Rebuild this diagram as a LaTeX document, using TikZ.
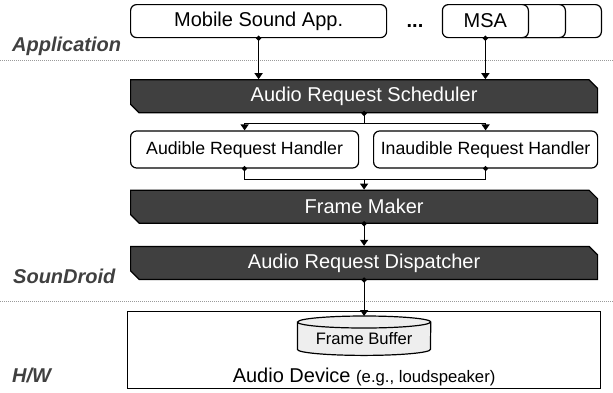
\documentclass[tikz,border=0pt]{standalone}
\usepackage{fontspec}
\setmainfont{Liberation Sans}
\usetikzlibrary{%
	positioning,
	arrows.meta,
	shapes.misc,
	backgrounds
}
\definecolor{layergray}{HTML}{404040}
\definecolor{sepgray}{HTML}{9A9A9A}
\definecolor{buffergray}{HTML}{EEEEEE}

\begin{document}
\begin{tikzpicture}[x=1pt,y=1pt,
		SApp/.style={draw,shape=rectangle,rounded corners=6pt,fill=white,line width=1.2pt,minimum height=33pt,inner sep=0pt,font=\fontsize{20}{24}\selectfont},
		SLayer/.style={draw,fill=layergray,text=white,shape=chamfered rectangle,chamfered rectangle corners={north east,south west},chamfered rectangle xsep=5pt,minimum width=467pt,minimum height=33pt,inner sep=0pt,line width=1.2pt,font=\fontsize{20}{24}\selectfont},
		SHandler/.style={draw,shape=rectangle,rounded corners=6pt,line width=1.2pt,minimum height=37pt,inner sep=0pt,font=\fontsize{17.7}{21}\selectfont},
		title/.style={anchor=base west,text=layergray,inner sep=0pt,font=\fontsize{20}{24}\selectfont\bfseries\itshape},
		layersep/.style={draw=sepgray,line width=0.8pt,dash pattern=on 0.8pt off 1.2pt},
		link/.style={line width=1.2pt},
		fromdot/.style={link,{Circle[length=5pt]}-,shorten <=-2.5pt},
		totip/.style={link,-{Triangle[length=6pt,width=8pt]}},
		flow/.style={link,{Circle[length=5pt]}-{Triangle[length=6pt,width=8pt]},shorten <=-2.5pt}
	]
	\useasboundingbox (0,0) rectangle (613,-392);
	
	%layers
	\draw[layersep] (0,-60) -- (613,-60);
	\draw[layersep] (0,-301) -- (613,-301);
	\node(lapp) [title] at (12,-51) {Application};
	\node(lsound) [title] at (13,-283) {SounDroid};
	\node(lhw) [title] at (12,-382) {H/W};
	
	%apps
	\node(app1) [SApp, minimum width=256pt, anchor=north west] at (130,-4) {Mobile Sound App.};
	\node(dots) [anchor=base, font=\fontsize{20}{24}\selectfont] at (415,-27) {\textbf{...}};
	\node(msa3) [SApp, minimum width=86pt, anchor=north east] at (602,-4) {};
	\node(msa2) [SApp, minimum width=86pt, left=36pt of msa3.east, anchor=east] {};
	\node(msa) [SApp, minimum width=86pt, left=37pt of msa2.east, anchor=east] {MSA};
	
	%soundroid
	\node(sched) [SLayer, below=41pt of app1.south west, anchor=north west] {Audio Request Scheduler};
	\coordinate (hleft) at (sched.south -| app1.west);
	\node(audible) [SHandler, minimum width=228pt, below=17pt of hleft, anchor=north west] {Audible Request Handler};
	\node(inaudible) [SHandler, minimum width=224pt, below=17pt of sched.south east, anchor=north east] {Inaudible Request Handler};
	\node(maker) [SLayer, below=21pt of audible.south west, anchor=north west] {Frame Maker};
	\node(dispatch) [SLayer, below=22pt of maker.south] {Audio Request Dispatcher};
	
	%h/w
	\node(device) [draw, line width=1.2pt, minimum width=473pt, minimum height=77pt, below=31pt of dispatch.south] {};
	\node(buffer) [minimum width=133pt, minimum height=33pt, inner sep=0pt, font=\fontsize{16.6}{20}\selectfont, below=11pt of device.north] {Frame Buffer};
	\begin{scope}[on background layer]
		\draw[link, fill=buffergray] (buffer.north west) -- ([yshift=6pt]buffer.south west) arc[start angle=180, end angle=360, x radius=66.5, y radius=6] -- (buffer.north east) arc[start angle=0, end angle=180, x radius=66.5, y radius=6] -- cycle;
		\draw[link] (buffer.north west) arc[start angle=180, end angle=360, x radius=66.5, y radius=6];
	\end{scope}
	\node(devlabel) [above=7pt of device.south, anchor=base, inner sep=0pt, font=\fontsize{20}{24}\selectfont] {Audio Device {\fontsize{16.7}{20}\selectfont(e.g., loudspeaker)}};
	
	\draw [flow] (app1.south) -- (app1.south |- sched.north);
	\draw [flow] (msa.south) -- (msa.south |- sched.north);
	\coordinate[below=10pt of sched.south] (split);
	\draw [fromdot] (sched.south) -- (split);
	\draw [totip] (split) -| (audible.north);
	\draw [totip] (split) -| (inaudible.north);
	\coordinate[above=10pt of maker.north] (join);
	\draw [fromdot] (audible.south) |- (join);
	\draw [fromdot] (inaudible.south) |- (join);
	\draw [totip] (join) -- (maker.north);
	\draw [flow] (maker.south) -- (dispatch.north);
	\draw [flow] (dispatch.south) -- ([yshift=6pt]buffer.north);
	
\end{tikzpicture}
\end{document}
